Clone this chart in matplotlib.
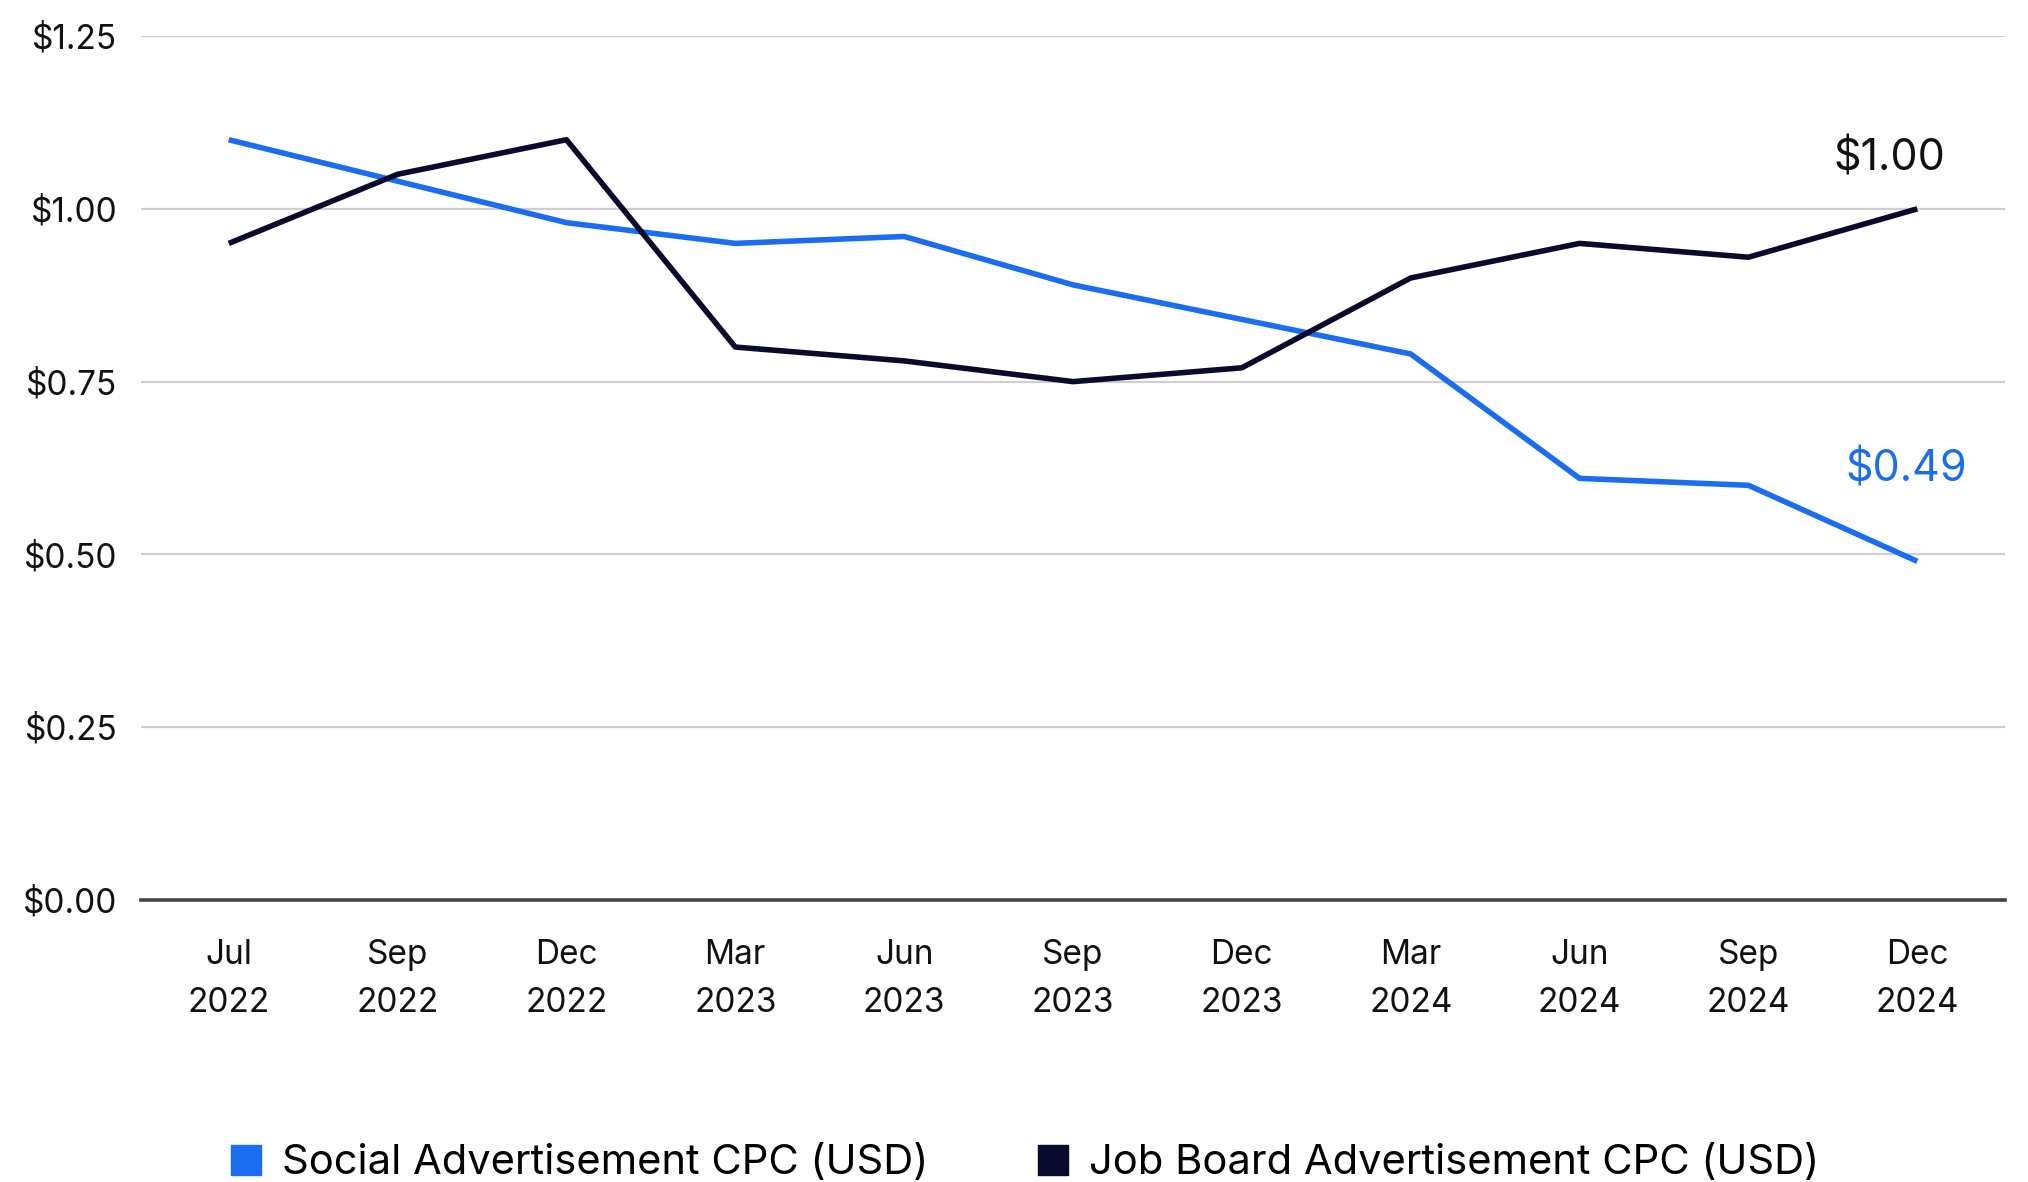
import matplotlib.pyplot as plt
from matplotlib.lines import Line2D

plt.rcParams['font.family'] = ['Inter', 'DejaVu Sans']

# quarterly CPC values
periods = ['Jul\n2022', 'Sep\n2022', 'Dec\n2022', 'Mar\n2023', 'Jun\n2023', 'Sep\n2023',
           'Dec\n2023', 'Mar\n2024', 'Jun\n2024', 'Sep\n2024', 'Dec\n2024']
social_cpc = [1.10, 1.04, 0.98, 0.95, 0.96, 0.89, 0.84, 0.79, 0.61, 0.60, 0.49]
job_board_cpc = [0.95, 1.05, 1.10, 0.80, 0.78, 0.75, 0.77, 0.90, 0.95, 0.93, 1.00]
y_ticks = [0, 0.25, 0.5, 0.75, 1.0, 1.25]

blue = '#1a6cf0'
navy = '#0a0a2c'

fig = plt.figure(figsize=(20.28, 11.82), dpi=100)
ax = fig.add_axes([0.0695, 0.2386, 0.9192, 0.7309])

x = list(range(len(periods)))
ax.plot(x, social_cpc, color=blue, lw=4, solid_capstyle='butt', zorder=3)
ax.plot(x, job_board_cpc, color=navy, lw=4, solid_capstyle='butt', zorder=3)

ax.set_xlim(-0.52, len(periods) - 0.48)
ax.set_ylim(0, 1.25)
ax.set_yticks(y_ticks)
ax.set_yticklabels(['$%.2f' % v for v in y_ticks])
ax.set_xticks(x)
ax.set_xticklabels(periods, linespacing=1.65)

ax.grid(axis='y', color='#cfcfcf', lw=1.6)
ax.set_axisbelow(True)
for s in ['top', 'right', 'left']:
    ax.spines[s].set_visible(False)
ax.spines['bottom'].set_color('#444444')
ax.spines['bottom'].set_linewidth(2.6)
ax.spines['bottom'].set_zorder(4)
ax.tick_params(axis='both', length=0, labelsize=24, colors='#111111')
ax.tick_params(axis='y', pad=17)
ax.tick_params(axis='x', pad=28)

# end-of-line value labels
ax.annotate('$%.2f' % job_board_cpc[-1], (x[-1], job_board_cpc[-1]),
            xytext=(-20, 36), textcoords='offset points',
            ha='center', va='center', fontsize=31, color='#111111')
ax.annotate('$%.2f' % social_cpc[-1], (x[-1], social_cpc[-1]),
            xytext=(-8, 66), textcoords='offset points',
            ha='center', va='center', fontsize=31, color=blue)

handles = [Line2D([], [], ls='none', marker='s', ms=21, color=blue),
           Line2D([], [], ls='none', marker='s', ms=21, color=navy)]
fig.legend(handles, ['Social Advertisement CPC (USD)', 'Job Board Advertisement CPC (USD)'],
           loc='center', bbox_to_anchor=(0.503, 0.016), ncol=2, frameon=False,
           fontsize=30, handletextpad=0.25, handlelength=1.2, columnspacing=2.4,
           borderaxespad=0)

fig.savefig('out.png', dpi=100)
